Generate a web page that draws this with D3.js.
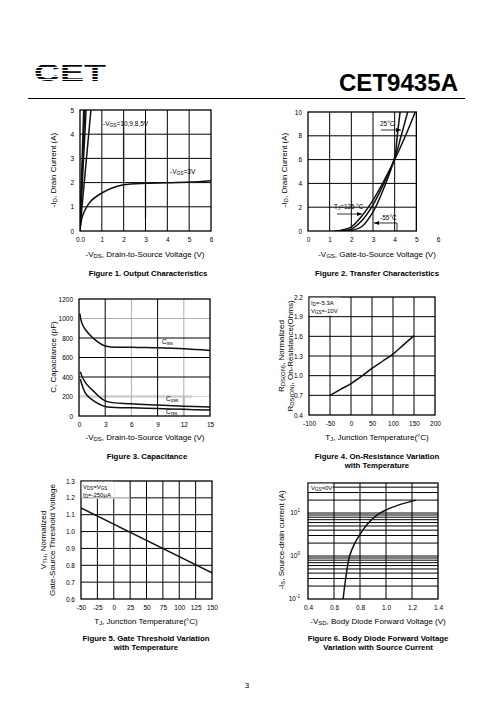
<!DOCTYPE html>
<html><head><meta charset="utf-8">
<script src="https://cdn.jsdelivr.net/npm/d3@7"></script>
<style>
body{margin:0;background:#fff}
svg{display:block}
text{font-family:"Liberation Sans",Arial,Helvetica,sans-serif;fill:#000}
</style></head>
<body><svg id="page" width="496" height="723"></svg>
<script>
// ---------- DATA ----------
const partNumber = "CET9435A";
const pageNumber = "3";

// Figure 1 – Output characteristics  [-VDS (V), -ID (A)]
const fig1XTicks = [0, 1, 2, 3, 4, 5, 6];
const fig1YTicks = [0, 1, 2, 3, 4, 5];
const fig1Vgs10 = [[0, 0.2], [0.17, 5]];
const fig1Vgs9  = [[0, 0.2], [0.22, 5]];
const fig1Vgs8  = [[0, 0.2], [0.28, 5]];
const fig1Vgs5  = [[0, 0.1], [0.5, 5]];
const fig1Vgs3  = [[0, 0], [0.04, 0.3], [0.1, 0.58], [0.25, 0.9], [0.5, 1.24], [1, 1.57], [1.5, 1.79], [2, 1.91], [3, 1.97], [4, 1.99], [5, 2.02], [6, 2.08]];

// Figure 2 – Transfer characteristics [-VGS (V), -ID (A)]
const fig2XTicks = [0, 1, 2, 3, 4, 5, 6];
const fig2YTicks = [0, 2, 4, 6, 8, 10];
const fig2T125 = [[1.2, 0], [1.5, 0.05], [2, 0.35], [2.5, 1.3], [3, 2.6], [3.5, 4.2], [4, 6.0], [4.5, 8.0], [4.95, 10]];
const fig2T25  = [[1.4, 0], [1.8, 0.05], [2, 0.15], [2.5, 0.9], [3, 2.2], [3.5, 4.0], [4, 6.1], [4.3, 8.0], [4.6, 10]];
const fig2Tm55 = [[1.6, 0], [2, 0.05], [2.5, 0.4], [3, 1.6], [3.5, 3.6], [4, 6.2], [4.12, 8.0], [4.25, 10]];

// Figure 3 – Capacitance [-VDS (V), C (pF)]
const fig3XTicks = [0, 3, 6, 9, 12, 15];
const fig3YTicks = [0, 200, 400, 600, 800, 1000, 1200];
const fig3Ciss = [[0.1, 1050], [0.3, 960], [0.7, 890], [1.6, 800], [3, 718], [6, 705], [9, 699], [12, 689], [15, 672]];
const fig3Coss = [[0.15, 455], [0.4, 395], [0.8, 335], [1.6, 260], [3, 155], [6, 125], [9, 112], [12, 100], [15, 92]];
const fig3Crss = [[0.15, 380], [0.4, 305], [0.8, 225], [1.6, 160], [3, 97], [6, 85], [9, 76], [12, 68], [15, 61]];

// Figure 4 – On-resistance vs temperature [TJ (°C), RDS(on) normalized]
const fig4XTicks = [-100, -50, 0, 50, 100, 150, 200];
const fig4YTicks = [0.4, 0.7, 1.0, 1.3, 1.6, 1.9, 2.2];
const fig4Rds = [[-50, 0.70], [-25, 0.79], [0, 0.88], [25, 0.99], [50, 1.11], [75, 1.22], [100, 1.33], [125, 1.47], [150, 1.61]];

// Figure 5 – Gate threshold vs temperature [TJ (°C), VTH normalized]
const fig5XTicks = [-50, -25, 0, 25, 50, 75, 100, 125, 150];
const fig5YTicks = [0.6, 0.7, 0.8, 0.9, 1.0, 1.1, 1.2, 1.3];
const fig5Vth = [[-50, 1.14], [150, 0.755]];

// Figure 6 – Body diode [-VSD (V), -IS (A)]
const fig6XTicks = [0.4, 0.6, 0.8, 1.0, 1.2, 1.4];
const fig6YTicks = [0.1, 1, 10];
const fig6Is = [[0.67, 0.1], [0.69, 0.3], [0.72, 1.0], [0.76, 2.0], [0.8, 3.2], [0.85, 5.2], [0.9, 7.5], [0.95, 9.8], [1.0, 11.8], [1.1, 15.5], [1.23, 20]];

// ---------- DRAWING ----------
const svg = d3.select("#page");
const FONT = '"Liberation Sans",Arial,sans-serif';
const hy = d => String(d);

// header
const logo = svg.append("g");
logo.append("text").attr("x", 34).attr("y", 81).attr("font-size", 24).attr("font-weight", "bold")
  .attr("font-family", "DejaVu Sans").attr("textLength", 72).attr("lengthAdjust", "spacingAndGlyphs").text("CET");
d3.range(62, 83, 3).forEach(y => {
  logo.append("rect").attr("x", 30).attr("y", y + 1.9).attr("width", 80).attr("height", 1.1).attr("fill", "#fff");
});
svg.append("text").attr("x", 458).attr("y", 91).attr("text-anchor", "end").attr("font-size", 23.5)
  .attr("font-weight", "bold").attr("textLength", 119).attr("lengthAdjust", "spacingAndGlyphs").text(partNumber);
svg.append("line").attr("x1", 28).attr("x2", 465).attr("y1", 98.5).attr("y2", 98.5).attr("stroke", "#000").attr("stroke-width", 1);
svg.append("text").attr("x", 247).attr("y", 688).attr("text-anchor", "middle").attr("font-size", 8).text(pageNumber);

function sub(t, parts) {
  let last = false;
  parts.forEach(([s, isSub]) => {
    const ts = t.append("tspan").text(s);
    if (isSub && !last) ts.attr("font-size", "0.75em").attr("dy", "0.15em");
    else if (isSub) ts.attr("font-size", "0.75em");
    else if (last) ts.attr("dy", "-0.11em");
    last = isSub;
  });
}

function panel(o) {
  const g = svg.append("g");
  const x = o.x, y = o.y;
  const [bx0, bx1] = o.boxX, [by0, by1] = o.boxY;
  (o.gray || []).forEach(s => {
    g.append("line").attr("x1", x(s[0])).attr("y1", y(s[1])).attr("x2", x(s[2])).attr("y2", y(s[3]))
      .attr("stroke", s[5] || "#c4c4c4").attr("stroke-width", s[4] || 2);
  });
  (o.grayGridX || []).forEach(v => g.append("line").attr("x1", x(v)).attr("x2", x(v)).attr("y1", by0).attr("y2", by1)
    .attr("stroke", "#b0b0b0").attr("stroke-width", 1));
  (o.grayGridY || []).forEach(v => g.append("line").attr("x1", bx0).attr("x2", bx1).attr("y1", y(v)).attr("y2", y(v))
    .attr("stroke", "#b0b0b0").attr("stroke-width", 1));
  o.gridX.forEach(v => g.append("line").attr("x1", x(v)).attr("x2", x(v)).attr("y1", by0).attr("y2", by1)
    .attr("stroke", "#000").attr("stroke-width", 1));
  o.gridY.forEach(v => g.append("line").attr("x1", bx0).attr("x2", bx1).attr("y1", y(v)).attr("y2", y(v))
    .attr("stroke", "#000").attr("stroke-width", 1));
  const clipId = "clip" + Math.random().toString(36).slice(2);
  g.append("clipPath").attr("id", clipId).append("rect").attr("x", bx0).attr("y", by0).attr("width", bx1 - bx0).attr("height", by1 - by0);
  o.series.forEach(s => {
    const line = d3.line().x(d => x(d[0])).y(d => y(d[1]))
      .curve(s.length > 2 ? d3.curveCatmullRom.alpha(0.5) : d3.curveLinear);
    g.append("path").attr("d", line(s)).attr("fill", "none").attr("stroke", "#111").attr("stroke-width", 1.5)
      .attr("clip-path", `url(#${clipId})`);
  });
  g.append("rect").attr("x", bx0).attr("y", by0).attr("width", bx1 - bx0).attr("height", by1 - by0)
    .attr("fill", "none").attr("stroke", "#000").attr("stroke-width", 1.3);
  const ax = g.append("g").attr("transform", `translate(0,${by1 + 2})`)
    .call(d3.axisBottom(x).tickValues(o.xTicks).tickSize(0).tickFormat(o.xFmt || hy));
  const ay = g.append("g").attr("transform", `translate(${bx0 - 3},0)`)
    .call(d3.axisLeft(y).tickValues(o.yTicks).tickSize(0).tickFormat(o.yFmt || hy));
  [ax, ay].forEach(a => {
    a.select(".domain").remove();
    a.selectAll("text").attr("font-size", 6.5).attr("font-family", FONT).attr("fill", "#000");
  });
  ax.selectAll("text").attr("dy", "0.9em");
  return g;
}

function title(parts, xx, yy, opts = {}) {
  const t = svg.append("text").attr("font-size", opts.size || 8).attr("text-anchor", "middle");
  if (opts.rotate) t.attr("transform", `translate(${xx},${yy}) rotate(-90)`);
  else t.attr("x", xx).attr("y", yy);
  if (opts.bold) t.attr("font-weight", "bold");
  sub(t, parts);
  return t;
}
const f1 = d => d.toFixed(1);
const CAP = 7.8;

// ---- Figure 1 ----
{
  const x = d3.scaleLinear().domain([0, 6]).range([80, 211]);
  const y = d3.scaleLinear().domain([0, 5]).range([231, 110]);
  const g = panel({
    x, y, boxX: [80, 211], boxY: [110, 231],
    xTicks: fig1XTicks, yTicks: fig1YTicks,
    xFmt: d => d === 0 ? "0.0" : d,
    gridX: [1, 2, 3, 4, 5], gridY: [1, 2, 3, 4],
    gray: [[2, 4.3, 2, 2.05, 2], [3, 4.3, 3, 0.5, 2]],
    series: [fig1Vgs10, fig1Vgs9, fig1Vgs8, fig1Vgs5, fig1Vgs3]
  });
  const l1 = g.append("text").attr("x", 103).attr("y", 126).attr("font-size", 6.5);
  sub(l1, [["-V", 0], ["GS", 1], ["=10,9,8,5V", 0]]);
  const l2 = g.append("text").attr("x", 170).attr("y", 174).attr("font-size", 6.5);
  sub(l2, [["-V", 0], ["GS", 1], ["=3V", 0]]);
  title([["-V", 0], ["DS", 1], [", Drain-to-Source Voltage (V)", 0]], 145, 257);
  title([["-I", 0], ["D", 1], [", Drain Current (A)", 0]], 56, 170, { rotate: true });
  title([["Figure 1. Output Characteristics", 0]], 148, 276, { bold: true, size: CAP });
}

// ---- Figure 2 ----
{
  const x = d3.scaleLinear().domain([0, 6]).range([308, 438]);
  const y = d3.scaleLinear().domain([0, 10]).range([231, 112]);
  const g = panel({
    x, y, boxX: [308, x(5)], boxY: [112, 231],
    xTicks: fig2XTicks, yTicks: fig2YTicks,
    gridX: [1, 2, 3, 4], gridY: [2, 4, 6, 8],
    series: [fig2T125, fig2T25, fig2Tm55]
  });
  const ah = (x1, y1, x2, y2) => {
    g.append("line").attr("x1", x1).attr("y1", y1).attr("x2", x2).attr("y2", y2).attr("stroke", "#000").attr("stroke-width", 0.8);
    const dir = Math.sign(x2 - x1);
    g.append("path").attr("d", `M${x2},${y2}L${x2 - dir * 5},${y2 - 2}L${x2 - dir * 5},${y2 + 2}Z`).attr("fill", "#000");
  };
  const t1 = g.append("text").attr("x", 380).attr("y", 126).attr("font-size", 6.5);
  sub(t1, [["25°C", 0]]);
  ah(381, 130, 401, 130);
  const t2 = g.append("text").attr("x", 334).attr("y", 209).attr("font-size", 6.3);
  sub(t2, [["T", 0], ["J", 1], ["=125 °C", 0]]);
  ah(337, 214, 362, 214);
  const t3 = g.append("text").attr("x", 380).attr("y", 220).attr("font-size", 6.5);
  sub(t3, [["-55°C", 0]]);
  g.append("line").attr("x1", 397).attr("y1", 231).attr("x2", 397).attr("y2", 223).attr("stroke", "#000").attr("stroke-width", 0.8);
  ah(397, 223, 374, 223);
  title([["-V", 0], ["GS", 1], [", Gate-to-Source Voltage (V)", 0]], 377, 257);
  title([["-I", 0], ["D", 1], [", Drain Current (A)", 0]], 287, 170, { rotate: true });
  title([["Figure 2. Transfer Characteristics", 0]], 377, 276, { bold: true, size: CAP });
}

// ---- Figure 3 ----
{
  const x = d3.scaleLinear().domain([0, 15]).range([79, 210]);
  const y = d3.scaleLinear().domain([0, 1200]).range([416, 299]);
  const g = panel({
    x, y, boxX: [79, 210], boxY: [299, 416],
    xTicks: fig3XTicks, yTicks: fig3YTicks,
    gridX: [3, 9], gridY: [400, 600, 800],
    grayGridX: [6, 12], grayGridY: [1000],
    gray: [[0, 200, 13, 200, 2.5, "#cfcfcf"], [13, 200, 15, 200, 1, "#d8d8d8"], [12, 200, 12, 0, 2.5, "#cfcfcf"]],
    series: [fig3Ciss, fig3Coss, fig3Crss]
  });
  const lab = (s, xx, yy) => { const t = g.append("text").attr("x", xx).attr("y", yy).attr("font-size", 6.5); sub(t, [["C", 0], [s, 1]]); };
  lab("iss", 162, 344); lab("oss", 166, 401); lab("rss", 166, 414);
  title([["-V", 0], ["DS", 1], [", Drain-to-Source Voltage (V)", 0]], 145, 440);
  title([["C, Capacitance (pF)", 0]], 56, 357, { rotate: true });
  title([["Figure 3. Capacitance", 0]], 147, 459, { bold: true, size: CAP });
}

// ---- Figure 4 ----
{
  const x = d3.scaleLinear().domain([-100, 200]).range([309, 435]);
  const y = d3.scaleLinear().domain([0.4, 2.2]).range([415, 297]);
  const g = panel({
    x, y, boxX: [309, 435], boxY: [297, 415],
    xTicks: fig4XTicks, yTicks: fig4YTicks, yFmt: f1,
    gridX: [-50, 0, 50, 100, 150], gridY: [0.7, 1.0, 1.3, 1.6, 1.9],
    series: [fig4Rds]
  });
  g.append("rect").attr("x", 309.7).attr("y", 297.7).attr("width", 31).attr("height", 18).attr("fill", "#fff");
  const a = g.append("text").attr("x", 311).attr("y", 305).attr("font-size", 6); sub(a, [["I", 0], ["D", 1], ["=-5.3A", 0]]);
  const b = g.append("text").attr("x", 311).attr("y", 313).attr("font-size", 6); sub(b, [["V", 0], ["GS", 1], ["=-10V", 0]]);
  title([["T", 0], ["J", 1], [", Junction Temperature(°C)", 0]], 377, 440);
  title([["R", 0], ["DS(ON)", 1], [", Normalized", 0]], 284, 356, { rotate: true });
  title([["R", 0], ["DS(ON)", 1], [", On-Resistance(Ohms)", 0]], 293, 356, { rotate: true });
  title([["Figure 4. On-Resistance Variation", 0]], 377, 459, { bold: true, size: CAP });
  title([["with Temperature", 0]], 377, 468, { bold: true, size: CAP });
}

// ---- Figure 5 ----
{
  const x = d3.scaleLinear().domain([-50, 150]).range([81, 212]);
  const y = d3.scaleLinear().domain([0.6, 1.3]).range([599, 481]);
  const g = panel({
    x, y, boxX: [81, 212], boxY: [481, 599],
    xTicks: fig5XTicks, yTicks: fig5YTicks, yFmt: f1,
    gridX: [-25, 0, 25, 50, 75, 100, 125], gridY: [0.7, 0.8, 0.9, 1.0, 1.1],
    gray: [[-50, 1.2, 25, 1.2, 1.5, "#bbb"], [25, 1.2, 150, 1.2, 1, "#000"]],
    series: [fig5Vth]
  });
  g.append("rect").attr("x", 81.7).attr("y", 481.7).attr("width", 33).attr("height", 17).attr("fill", "#fff");
  g.append("line").attr("x1", 82).attr("x2", x(25)).attr("y1", y(1.2)).attr("y2", y(1.2)).attr("stroke", "#bbb").attr("stroke-width", 1.5);
  const a = g.append("text").attr("x", 83).attr("y", 489).attr("font-size", 6); sub(a, [["V", 0], ["DS", 1], ["=V", 0], ["GS", 1]]);
  const b = g.append("text").attr("x", 83).attr("y", 497).attr("font-size", 6); sub(b, [["I", 0], ["D", 1], ["=-250µA", 0]]);
  title([["T", 0], ["J", 1], [", Junction Temperature(°C)", 0]], 146, 624);
  title([["V", 0], ["TH", 1], [", Normalized", 0]], 46, 540, { rotate: true });
  title([["Gate-Source Threshold Voltage", 0]], 55, 540, { rotate: true });
  title([["Figure 5. Gate Threshold Variation", 0]], 146, 641, { bold: true, size: CAP });
  title([["with Temperature", 0]], 146, 650, { bold: true, size: CAP });
}

// ---- Figure 6 ----
{
  const x = d3.scaleLinear().domain([0.4, 1.4]).range([308, 438]);
  const y = d3.scaleLog().domain([0.1, 50]).range([599, 483]);
  const minor = [];
  [0.1, 1, 10].forEach(d => d3.range(2, 10).forEach(k => { if (d * k < 50) minor.push(d * k); }));
  const g = panel({
    x, y, boxX: [308, 438], boxY: [483, 599],
    xTicks: fig6XTicks, yTicks: [], xFmt: f1,
    gridX: [0.6, 0.8, 1.0, 1.2], gridY: [1, 10].concat(minor),
    series: [fig6Is]
  });
  fig6YTicks.forEach(v => {
    const t = g.append("text").attr("x", 300).attr("y", y(v) + 2).attr("font-size", 6.5).attr("text-anchor", "end");
    t.append("tspan").text("10");
    t.append("tspan").text(String(Math.round(Math.log10(v)))).attr("font-size", 4.5).attr("dy", -3);
  });
  g.append("rect").attr("x", 308.7).attr("y", 483.7).attr("width", 24).attr("height", 8).attr("fill", "#fff");
  const a = g.append("text").attr("x", 311).attr("y", 490).attr("font-size", 6); sub(a, [["V", 0], ["GS", 1], ["=0V", 0]]);
  title([["-V", 0], ["SD", 1], [", Body Diode Forward Voltage (V)", 0]], 378, 624);
  title([["-I", 0], ["S", 1], [", Source-drain current (A)", 0]], 284, 540, { rotate: true });
  title([["Figure 6. Body Diode Forward Voltage", 0]], 378, 641, { bold: true, size: CAP });
  title([["Variation with Source Current", 0]], 378, 650, { bold: true, size: CAP });
}
</script></body></html>
